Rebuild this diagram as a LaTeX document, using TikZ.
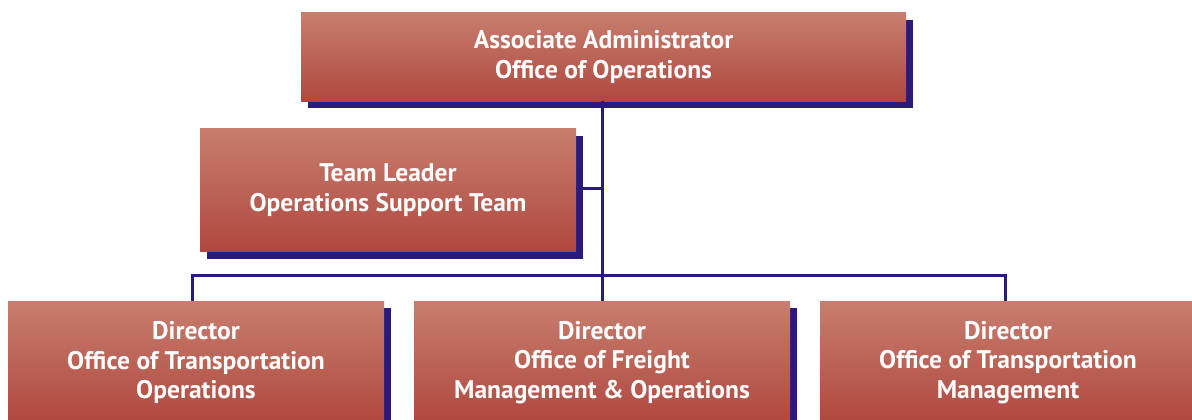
\documentclass[tikz,border=0pt]{standalone}
\usepackage{fontspec}
\setmainfont{PT Sans}
\usetikzlibrary{shadows}
\definecolor{boxtop}{HTML}{C77E6E}
\definecolor{boxbot}{HTML}{B0473F}
\definecolor{shadowc}{HTML}{291A7C}
\tikzset{
  orgbox/.style={rectangle, inner sep=0pt, top color=boxtop, bottom color=boxbot,
    text=white, font=\fontsize{25.5}{29.5}\selectfont\bfseries, align=center,
    minimum width=376pt, minimum height=123pt,
    drop shadow={shadow xshift=7pt, shadow yshift=-7pt, fill=shadowc, opacity=1}},
  link/.style={draw=shadowc, line width=3pt}
}
\begin{document}
\begin{tikzpicture}[x=1pt,y=-1pt]
\useasboundingbox (0,0) rectangle (1192,420);
\clip (0,0) rectangle (1192,420);
\node[orgbox, minimum width=605pt, minimum height=88pt] (top) at (603.5,57) {Associate Administrator\\Office of Operations};
\node[orgbox] (team) at (388,190) {Team Leader\\Operations Support Team};
\node[orgbox] (d1) at (196,362.5) {Director\\Office of Transportation\\Operations};
\node[orgbox] (d2) at (602,362.5) {Director\\Office of Freight\\Management \& Operations};
\node[orgbox] (d3) at (1008,362.5) {Director\\Office of Transportation\\Management};
\coordinate (bl) at (192,275);
\coordinate (br) at (1005,275);
\coordinate (tj) at (602,188);
\draw[link] (tj |- top.south) -- (tj |- d2.north);
\draw[link] (team.east |- tj) -- (tj);
\draw[link] (bl |- d1.north) -- (bl) -- (br) -- (br |- d3.north);
\end{tikzpicture}
\end{document}
